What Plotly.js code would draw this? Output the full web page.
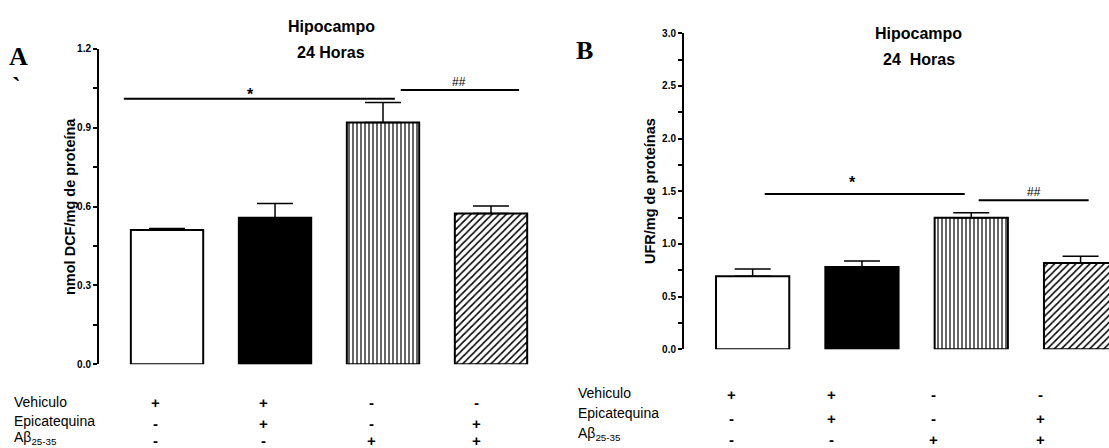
<!DOCTYPE html>
<html>
<head>
<meta charset="utf-8">
<script src="https://cdn.plot.ly/plotly-3.0.1.min.js"></script>
<style>
  html, body { margin: 0; padding: 0; background: #fff; }
  #chart { width: 1109px; height: 448px; }
</style>
</head>
<body>
<div id="chart"></div>
<script>
// Treatment groups (bar order)
const groups = [0, 1, 2, 3];

// Panel A: ROS (nmol DCF/mg de proteína), mean and SEM
const dcfMean = [0.511, 0.557, 0.919, 0.573];
const dcfSem  = [0.005, 0.054, 0.076, 0.029];

// Panel B: lipid peroxidation (UFR/mg de proteínas), mean and SEM
const ufrMean = [0.693, 0.781, 1.249, 0.819];
const ufrSem  = [0.069, 0.057, 0.048, 0.064];

// Treatment table rows
const rowLabels = ['Vehiculo', 'Epicatequina', 'Aβ<sub>25-35</sub>'];
const vehiculoRow     = ['+', '+', '-', '-'];
const epicatequinaRow = ['-', '+', '-', '+'];
const abetaRow        = ['-', '-', '+', '+'];

const W = 1109, H = 448;
const PX = x => x / W;
const PY = y => 1 - y / H;
const FONT = 'Liberation Sans, Arial, sans-serif';

// Fill style of each group's bar
const barStyles = [
  { color: 'white', shape: '',  size: 6, solidity: 0.3 },
  { color: 'black', shape: '',  size: 6, solidity: 0.3 },
  { color: 'white', shape: '|', size: 4, solidity: 0.3 },
  { color: 'white', shape: '/', size: 5, solidity: 0.3 }
];

function barTrace(i, means, sems, xa, ya) {
  const st = barStyles[i];
  const marker = { color: st.color, line: { color: 'black', width: 2 } };
  if (st.shape) {
    marker.pattern = { shape: st.shape, fgcolor: 'black', bgcolor: 'white',
                       size: st.size, solidity: st.solidity };
  }
  return {
    type: 'bar',
    x: [groups[i]],
    y: [means[i]],
    xaxis: xa, yaxis: ya,
    width: 0.67,
    cliponaxis: false,
    marker: marker,
    error_y: { type: 'data', symmetric: false, array: [sems[i]], arrayminus: [0],
               color: 'black', thickness: 1.5, width: 18 },
    hoverinfo: 'skip',
    showlegend: false
  };
}

// Major ticks labelled, minor ticks unlabelled
function tickSet(max, major) {
  const vals = [], text = [];
  const n = Math.round(max / (major / 2));
  for (let k = 0; k <= n; k++) {
    const v = +(k * major / 2).toFixed(3);
    vals.push(v);
    text.push(k % 2 === 0 ? v.toFixed(1) : '');
  }
  return { tickvals: vals, ticktext: text };
}

const yAxisBase = {
  showline: true, linecolor: 'black', linewidth: 2,
  ticks: 'outside', ticklen: 4, tickwidth: 2, tickcolor: 'black',
  tickmode: 'array', showgrid: false, zeroline: false,
  tickfont: { family: FONT, size: 10, color: 'black', weight: 'bold' },
  fixedrange: true
};
const xAxisBase = { visible: false, showgrid: false, zeroline: false, fixedrange: true };

const layout = {
  width: W, height: H,
  margin: { l: 0, r: 0, t: 0, b: 0 },
  paper_bgcolor: 'white', plot_bgcolor: 'white',
  barmode: 'overlay',
  xaxis:  Object.assign({}, xAxisBase, { domain: [PX(99), PX(545)], range: [-0.63, 3.5] }),
  yaxis:  Object.assign({}, yAxisBase, tickSet(1.2, 0.3), { domain: [PY(364.3), PY(48.7)], range: [0, 1.2], anchor: 'x' }),
  xaxis2: Object.assign({}, xAxisBase, { domain: [PX(684), 1], range: [-0.628, 3.26] }),
  yaxis2: Object.assign({}, yAxisBase, tickSet(3.0, 0.5), { domain: [PY(349.3), PY(33.3)], range: [0, 3.0], anchor: 'x2' }),
  shapes: [
    // significance bars, panel A
    { type: 'line', xref: 'x', yref: 'y', x0: -0.40, x1: 2.11, y0: 1.01, y1: 1.01, line: { color: 'black', width: 2 } },
    { type: 'line', xref: 'x', yref: 'y', x0: 2.164, x1: 3.26, y0: 1.043, y1: 1.043, line: { color: 'black', width: 2 } },
    // significance bars, panel B
    { type: 'line', xref: 'x2', yref: 'y2', x0: 0.11, x1: 1.94, y0: 1.474, y1: 1.474, line: { color: 'black', width: 2 } },
    { type: 'line', xref: 'x2', yref: 'y2', x0: 2.068, x1: 3.074, y0: 1.415, y1: 1.415, line: { color: 'black', width: 2 } }
  ],
  annotations: []
};

const ann = layout.annotations;
function txt(x, y, text, opts) {
  ann.push(Object.assign({
    xref: 'paper', yref: 'paper', x: PX(x), y: PY(y), text: text,
    showarrow: false, xanchor: 'center', yanchor: 'middle',
    font: { family: FONT, size: 14, color: 'black' }
  }, opts || {}));
}

// Panel letters
txt(18, 56, '<b>A</b>', { font: { family: 'Liberation Serif, serif', size: 26, color: 'black' } });
txt(16, 86, '<b>`</b>', { font: { family: 'Liberation Serif, serif', size: 26, color: 'black' } });
txt(584, 51, '<b>B</b>', { font: { family: 'Liberation Serif, serif', size: 26, color: 'black' } });

// Titles
txt(331, 26, '<b>Hipocampo</b>', { font: { family: FONT, size: 16, color: 'black' } });
txt(331, 52, '<b>24 Horas</b>', { font: { family: FONT, size: 16, color: 'black' } });
txt(919, 33, '<b>Hipocampo</b>', { font: { family: FONT, size: 16, color: 'black' } });
txt(919, 60, '<b>24  Horas</b>', { font: { family: FONT, size: 16, color: 'black' } });

// Axis titles
txt(70, 207, '<b>nmol DCF/mg de proteína</b>', { textangle: -90, font: { family: FONT, size: 14.5, color: 'black' } });
txt(650, 191, '<b>UFR/mg de proteínas</b>', { textangle: -90, font: { family: FONT, size: 14.5, color: 'black' } });

// Significance marks
txt(250, 94, '<b>*</b>', { font: { family: FONT, size: 16, color: 'black' } });
txt(459, 82, '##', { font: { family: FONT, size: 12, color: 'black' } });
txt(852, 183, '<b>*</b>', { font: { family: FONT, size: 16, color: 'black' } });
txt(1034, 192, '##', { font: { family: FONT, size: 12, color: 'black' } });

// Treatment tables
const rows = [vehiculoRow, epicatequinaRow, abetaRow];
const tableA = { labelX: 12, labelY: [402, 421, 438], colX: [155, 263, 371, 476], symY: [402, 423, 440] };
const tableB = { labelX: 576, labelY: [393, 413, 434], colX: [731, 831, 933, 1040], symY: [394, 418, 439] };
[tableA, tableB].forEach(t => {
  rowLabels.forEach((lab, i) => {
    txt(t.labelX, t.labelY[i], lab, { xanchor: 'left', font: { family: FONT, size: 14, color: 'black' } });
    rows[i].forEach((s, j) => {
      txt(t.colX[j], t.symY[i], '<b>' + s + '</b>', { font: { family: FONT, size: 15, color: 'black' } });
    });
  });
});

const data = [];
groups.forEach((g, i) => data.push(barTrace(i, dcfMean, dcfSem, 'x', 'y')));
groups.forEach((g, i) => data.push(barTrace(i, ufrMean, ufrSem, 'x2', 'y2')));

Plotly.newPlot('chart', data, layout, { staticPlot: true, displayModeBar: false });
</script>
</body>
</html>
